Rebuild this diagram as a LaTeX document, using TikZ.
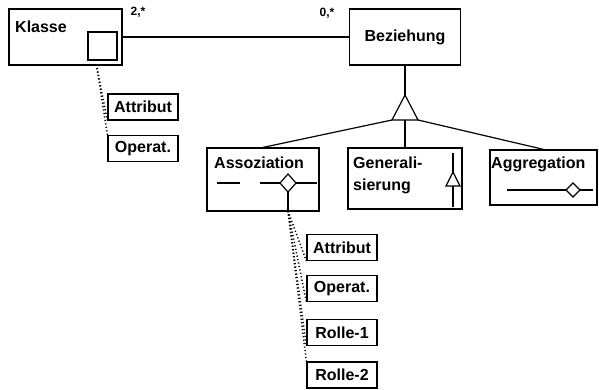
\documentclass[tikz,border=0pt]{standalone}
\usepackage{fontspec}
\setmainfont{Liberation Sans}
\usepackage{tikz}
\usetikzlibrary{calc}
\tikzset{
  box/.style={draw=black,line width=1.2pt,inner sep=0pt,fill=white},
  sbox/.style={box,minimum width=70,minimum height=26,font=\bfseries\fontsize{16}{18}\selectfont},
  txt/.style={inner sep=0pt,font=\bfseries\fontsize{16}{18}\selectfont},
  lab/.style={inner sep=0pt,font=\bfseries\fontsize{12}{13}\selectfont},
  lnk/.style={draw=black,line width=1.2pt},
  dots/.style={draw=black,line width=1.5pt,dash pattern=on 1.2pt off 2.3pt},
}

\begin{document}
\begin{tikzpicture}[x=1pt,y=-1pt]
\useasboundingbox (0,0) rectangle (599,390);
% Klasse
\node[box,minimum width=113,minimum height=56] (kl) at (65.5,37) {};
\node[txt,anchor=base west] (kl-t) at (15,33) {Klasse};
\node[box,minimum width=29,minimum height=28] (kl-i) at (102.5,46) {};
\coordinate (kl-d) at (97,68);
\node[sbox] (k-att) at (143,107) {Attribut};
\node[sbox] (k-op) at (143,148.5) {Operat.};
\draw[dots] (kl-d) -- (k-att.south west);
\draw[dots] (kl-d) -- (k-op.north west);
% Beziehung
\node[box,minimum width=111,minimum height=56,font=\bfseries\fontsize{16}{18}\selectfont] (bz) at (405,37) {Beziehung};
\draw[lnk] (kl.east) -- (bz.west);
\node[lab] (m1) at (138,12) {2,*};
\node[lab] (m2) at (327,13) {0,*};
% Vererbungsdreieck
\coordinate (tr-a) at (405,95);
\coordinate (tr-l) at (392,120);
\coordinate (tr-r) at (418,120);
\coordinate (tr-m) at (405,120);
\draw[lnk] (bz.south) -- (tr-a);
\draw[lnk] (tr-a) -- (tr-l) -- (tr-r) -- cycle;
% Unterklassen
\node[box,minimum width=112,minimum height=63] (as) at (263,179.5) {};
\node[txt,anchor=base west] (as-t) at (214,168) {Assoziation};
\node[box,minimum width=114,minimum height=61] (gn) at (405,178.5) {};
\node[txt,anchor=north west,align=left,font=\bfseries\fontsize{16}{22}\selectfont] (gn-t) at (353,156.5) {Generali-\\sierung};
\node[box,minimum width=107,minimum height=55] (ag) at (543.5,177.5) {};
\node[txt,anchor=base west] (ag-t) at (491,168) {Aggregation};
\draw[lnk] (tr-l) -- (as.north);
\draw[lnk] (tr-m) -- (gn.north);
\draw[lnk] (tr-r) -- (ag.north);
% Symbole
\draw[lnk] (217,183) -- (240,183);
\draw[lnk] (260,183) -- (280,183);
\draw[lnk,fill=white] (280,183) -- (288,174) -- (296,183) -- (288,192) -- cycle;
\draw[lnk] (296,183) -- (317,183);
\coordinate (as-d) at (288,211);
\draw[lnk] (288,192) -- (as-d);
\draw[lnk] (453,153) -- (453,207);
\draw[lnk,fill=white] (453,172) -- (460,186) -- (446,186) -- cycle;
\draw[lnk] (507,190) -- (566,190);
\draw[lnk,fill=white] (566,190) -- (573,183) -- (580,190) -- (573,197) -- cycle;
\draw[lnk] (580,190) -- (593,190);
% Assoziation-Teile
\node[sbox] (a-att) at (342,247.5) {Attribut};
\node[sbox] (a-op) at (342,288.5) {Operat.};
\node[sbox] (a-r1) at (342,332.5) {Rolle-1};
\node[sbox] (a-r2) at (342,375) {Rolle-2};
\draw[dots] (as-d) -- (a-att.south west);
\draw[dots] (as-d) -- (a-op.south west);
\draw[dots] (as-d) -- (a-r1.south west);
\draw[dots] (as-d) -- (a-r2.north west);
\end{tikzpicture}
\end{document}
